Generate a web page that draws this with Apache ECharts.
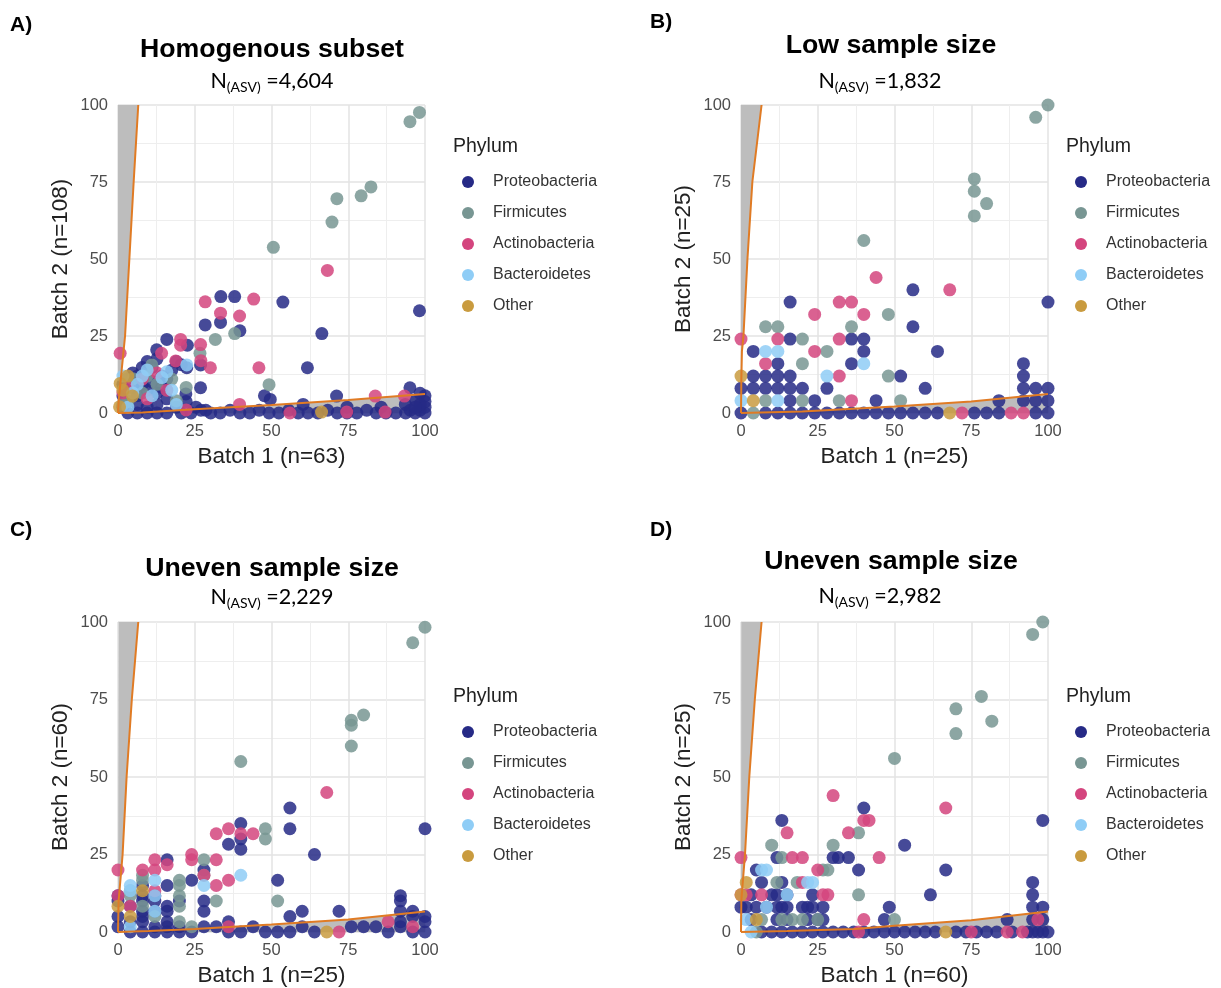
<!DOCTYPE html>
<html>
<head>
<meta charset="utf-8">
<script src="https://cdn.jsdelivr.net/npm/echarts@6/dist/echarts.min.js"></script>
<style>
  html, body { margin: 0; padding: 0; background: #fff; }
  #main { width: 1221px; height: 988px; }
</style>
</head>
<body>
<div id="main"></div>
<script>
const phyla = ["Proteobacteria", "Firmicutes", "Actinobacteria", "Bacteroidetes", "Other"];
const colors = ["#262a86", "#789693", "#d4457e", "#8fcdf6", "#c99b3f"];

// Panel A: Homogenous subset
const aProteo = [[33.5,37.8],[38,37.8],[53.7,36],[28.4,28.6],[33.4,29.4],[39.7,26.7],[66.4,25.8],[98.2,33.2],[61.7,14.7],[26.9,8.2],[15.9,23.9],[22.6,22],[12.6,20.5],[22.4,14.7],[26.9,15.6],[22.1,6.2],[47.7,5.6],[49.6,4.4],[71.2,5.5],[95.1,8.2],[98.4,6.4],[97,4],[93.6,2.8],[60.3,2.8],[85.7,1.9],[74.6,1.9],
  [1.6,9.3],[3.2,11.1],[4.8,13],[6.3,12],[7.9,14.8],[9.5,16.7],[11.1,14.8],[12.7,17.6],[14.3,12],[15.9,11.1],[17.5,13.9],[19,16.7],[20.6,15.7],[4.8,8.3],[6.3,5.6],[7.9,9.3],[9.5,7.4],[11.1,10.2],[12.7,6.5],[14.3,8.3],[3.2,3.7],[1.6,5.6],[6.3,2.8],[9.5,1.9],[12.7,2.8],[15.9,4.6],[19,1.9],[22.2,3.7],[25.4,1.9],[28.6,0.9],
  [20.6,0],[23.8,0],[27,0.9],[30.2,0],[33.3,0],[36.5,0.9],[39.7,0],[42.9,0],[46,0.9],[49.2,0],[52.4,0],[55.6,0.9],[58.7,0],[61.9,0],[65.1,0],[68.3,0.9],[71.4,0],[74.6,0],[77.8,0],[81,0.9],[84.1,0],[87.3,0],[90.5,0],[93.7,0],[95.2,0.9],[96.8,0],[98.4,0.9],[100,0],[100,1.9],[100,3.7],[100,5.6],[98.4,2.8],[96.8,1.9],[3.2,0],[6.3,0],[9.5,0],[12.7,0],[15.9,0],[1.6,1.9]];
const aFirm = [[95.1,94.6],[98.2,97.6],[71.3,69.6],[69.7,62],[79.2,70.5],[82.4,73.4],[50.6,53.8],[31.7,23.9],[38,25.8],[49.2,9.2],[26.7,19.4],[11,15.6],[17.5,11],[19,4],[7.9,6.5],[3.2,3.7],[12.7,9.3],[1.6,2.8],[4.8,11.1],[9.5,12],[22.2,8.3]];
const aActino = [[68.2,46.3],[28.4,36.1],[44.2,37],[33.4,32.4],[39.6,31.5],[45.9,14.7],[30.1,14.7],[26.9,22.2],[20.4,23.9],[20.4,22],[18.8,16.9],[14.2,19.4],[0.7,19.4],[39.6,2.8],[83.8,5.5],[93.3,5.5],[74.5,0.3],[87,0.3],[27,17],[12.7,13],[7.9,11],[3.2,8.3],[9.5,4.6],[1.6,6.5],[15.9,7.4],[22.2,1],[56,0]];
const aBact = [[7.9,12],[22.4,15.6],[15.9,13.4],[14.3,11.5],[6.3,9.3],[11.1,5.6],[3.2,1.9],[1.6,12],[19,2.8],[4.8,6.5],[17.5,7.4],[9.5,14]];
const aOther = [[4.7,5.5],[0.7,9.6],[66.3,0.3],[0.5,2],[1.6,7.4],[3.2,12]];
const aUpper = [[0,0],[0.3,5],[1,12],[2.3,25],[3.7,50],[5.1,75],[6.6,100]];
const aLower = [[0,0],[8,0.2],[25,1.2],[50,2.6],[75,4.2],[100,6.2]];

// Panel B: Low sample size
const bProteo = [[16,36],[56,40],[100,36],[56,28],[16,24],[36,24],[40,24],[40,20],[4,20],[64,20],[12,16],[36,16],[52,12],[92,16],[92,12],[92,8],[96,8],[100,8],[60,8],[28,8],[44,4],[24,4],[84,4],[92,4],[96,4],[100,4],
  [0,8],[4,8],[8,8],[12,8],[16,8],[20,8],[4,12],[8,12],[12,12],[16,12],[16,4],
  [0,0],[8,0],[12,0],[16,0],[20,0],[24,0],[28,0],[32,0],[36,0],[40,0],[44,0],[48,0],[52,0],[56,0],[60,0],[64,0],[76,0],[80,0],[84,0],[96,0],[100,0]];
const bFirm = [[100,100],[96,96],[76,76],[76,72],[76,64],[80,68],[40,56],[48,32],[36,28],[8,28],[12,28],[20,24],[28,20],[20,16],[48,12],[52,4],[32,4],[20,4],[8,4],[4,0]];
const bActino = [[44,44],[68,40],[32,36],[36,36],[24,32],[40,32],[0,24],[12,24],[32,24],[24,20],[8,16],[32,12],[36,4],[72,0],[88,0],[92,0]];
const bBact = [[8,20],[12,20],[40,16],[28,12],[12,4],[0,4]];
const bOther = [[0,12],[4,4],[68,0]];
const bUpper = [[0,0],[0.1,10],[0.3,20],[0.8,25],[2.1,50],[3.7,75],[6.7,100]];
const bLower = [[0,0],[20,0.5],[50,2.1],[75,3.7],[100,6.2]];

// Panel C: Uneven sample size (n=25 vs n=60)
const cProteo = [[56,40],[56,33.3],[40,35],[40,30],[40,26.7],[36,28.3],[64,25],[100,33.3],[16,23.3],[28,20],[24,16.7],[52,16.7],[16,15],[8,15],[28,10],[28,6.7],[60,6.7],[72,6.7],[56,5],[92,11.7],[92,10],[92,6.7],[96,6.7],[96,5],[100,5],[100,3.3],[92,3.3],[36,3.3],
  [0,11.7],[0,10],[4,8.3],[8,11.7],[8,10],[12,11.7],[12,10],[16,8.3],[16,6.7],[20,10],[0,5],[4,3.3],[8,5],[8,3.3],[12,1.7],[16,3.3],[20,1.7],[0,1.7],[12,6.7],[16,1.7],[8,6.7],
  [28,1.7],[32,1.7],[36,0],[40,0],[44,1.7],[48,0],[52,0],[56,0],[60,1.7],[64,0],[76,1.7],[80,1.7],[84,1.7],[88,0],[92,1.7],[96,0],[100,0],[24,0],[20,0],[16,0],[12,0],[8,0],[4,0]];
const cFirm = [[100,98.3],[96,93.3],[76,68.3],[76,66.7],[80,70],[76,60],[40,55],[48,33.3],[48,30],[28,23.3],[32,10],[52,10],[20,16.7],[20,15],[20,11.7],[20,8.3],[8,18.3],[8,16.7],[28,18.3],[4,13.3],[4,11.7],[12,5],[20,3.3],[24,1.7],[8,8.3]];
const cActino = [[68,45],[32,31.7],[36,33.3],[40,31.7],[44,31.7],[24,25],[24,23.3],[12,23.3],[16,21.7],[12,20],[8,20],[32,23.3],[28,18.3],[32,15],[36,16.7],[0,20],[88,3.3],[72,0],[96,1.7],[36,1.7],[4,8.3],[12,13.3],[0,11.7]];
const cBact = [[40,18.3],[28,15],[12,16.7],[4,15],[4,13.3],[12,6.7],[4,1.7],[12,11.7]];
const cOther = [[4,5],[68,0],[8,13.3],[0,8.3]];
const cUpper = [[0,0],[0.2,10],[1.5,25],[2.8,50],[4.5,75],[6.6,100]];
const cLower = [[0,0],[10,0.3],[25,1],[50,2.4],[75,4],[100,6.6]];

// Panel D: Uneven sample size (n=60 vs n=25)
const dProteo = [[40,40],[13.3,36],[98.3,36],[53.3,28],[66.7,20],[38.3,20],[30,24],[31.7,24],[35,24],[11.7,24],[61.7,12],[48.3,8],[95,16],[95,12],[95,8],[98.3,8],[86.7,4],[95,4],[98.3,4],[46.7,4],[25,4],[26.7,4],[23.3,12],[5,20],[6.7,16],[13.3,16],[3.3,12],[10,12],[11.7,12],[15,12],
  [0,8],[1.7,8],[5,8],[8.3,8],[11.7,8],[13.3,8],[15,8],[20,8],[21.7,8],[23.3,8],[26.7,8],[3.3,4],[11.7,4],[15,4],[21.7,4],
  [6.7,0],[10,0],[13.3,0],[16.7,0],[20,0],[23.3,0],[26.7,0],[30,0],[33.3,0],[36.7,0],[40,0],[43.3,0],[46.7,0],[50,0],[53.3,0],[56.7,0],[60,0],[63.3,0],[70,0],[73.3,0],[76.7,0],[80,0],[83.3,0],[88.3,0],[93.3,0],[96.7,0],[100,0],[98.3,0],[95,0]];
const dFirm = [[98.3,100],[95,96],[78.3,76],[70,72],[70,64],[81.7,68],[50,56],[38.3,32],[30,28],[10,28],[13.3,24],[18.3,16],[26.7,20],[38.3,12],[50,4],[25,4],[6.7,4],[5,0],[11.7,16],[16.7,4],[20,4],[28.3,20],[13.3,4]];
const dActino = [[30,44],[66.7,40],[40,36],[41.7,36],[35,32],[15,32],[0,24],[16.7,24],[20,24],[45,24],[25,20],[20,16],[28.3,12],[40,4],[0,12],[1.7,12],[6.7,12],[86.7,0],[91.7,0],[26.7,12],[96.7,4],[75,0],[38.3,0]];
const dBact = [[6.7,20],[8.3,20],[15,12],[23.3,16],[1.7,4],[3.3,0],[8.3,8],[21.7,16]];
const dOther = [[0,12],[5,4],[66.7,0],[1.7,16]];
const dUpper = [[0,0],[0.1,10],[1.3,25],[2.7,50],[4.5,75],[6.7,100]];
const dLower = [[0,0],[15,0.3],[37,1],[50,2],[75,3.8],[100,6.6]];

const ticks = [0, 25, 50, 75, 100];

const panels = [
  { label: "A)", title: "Homogenous subset", n: "4,604", xName: "Batch 1 (n=63)", yName: "Batch 2 (n=108)",
    grid: { left: 118, top: 105, width: 307, height: 308 }, labelPos: [10, 25], titlePos: [272, 50], subPos: [272, 81],
    legendX: 453, legendY: 147,
    points: [aProteo, aFirm, aActino, aBact, aOther], upper: aUpper, lower: aLower },
  { label: "B)", title: "Low sample size", n: "1,832", xName: "Batch 1 (n=25)", yName: "Batch 2 (n=25)",
    grid: { left: 741, top: 105, width: 307, height: 308 }, labelPos: [650, 22], titlePos: [891, 46], subPos: [880, 81],
    legendX: 1066, legendY: 147,
    points: [bProteo, bFirm, bActino, bBact, bOther], upper: bUpper, lower: bLower },
  { label: "C)", title: "Uneven sample size", n: "2,229", xName: "Batch 1 (n=25)", yName: "Batch 2 (n=60)",
    grid: { left: 118, top: 622, width: 307, height: 310 }, labelPos: [10, 530], titlePos: [272, 569], subPos: [272, 597],
    legendX: 453, legendY: 697,
    points: [cProteo, cFirm, cActino, cBact, cOther], upper: cUpper, lower: cLower },
  { label: "D)", title: "Uneven sample size", n: "2,982", xName: "Batch 1 (n=60)", yName: "Batch 2 (n=25)",
    grid: { left: 741, top: 622, width: 307, height: 310 }, labelPos: [650, 530], titlePos: [891, 562], subPos: [880, 596],
    legendX: 1066, legendY: 697,
    points: [dProteo, dFirm, dActino, dBact, dOther], upper: dUpper, lower: dLower }
];

const grids = [], xAxes = [], yAxes = [], series = [], legends = [], texts = [];

function axisBase() {
  return {
    type: "value", min: 0, max: 100, interval: 25,
    axisLine: { show: false }, axisTick: { show: false },
    axisLabel: { color: "#4d4d4d", fontSize: 16.5, fontFamily: "Liberation Sans", margin: 10,
      formatter: (v) => ticks.indexOf(v) >= 0 ? String(v) : "" },
    splitLine: { lineStyle: { color: "#e3e3e3", width: 1.5 } },
    minorTick: { show: false, splitNumber: 2 },
    minorSplitLine: { show: true, lineStyle: { color: "#eeeeee", width: 1 } },
    nameLocation: "middle",
    nameTextStyle: { color: "#222", fontSize: 22.5, fontFamily: "Liberation Sans" }
  };
}

panels.forEach((p, i) => {
  grids.push(Object.assign({ containLabel: false }, p.grid));
  xAxes.push(Object.assign(axisBase(), { gridIndex: i, name: p.xName, nameGap: 32 }));
  yAxes.push(Object.assign(axisBase(), { gridIndex: i, name: p.yName, nameGap: 46 }));

  // shaded bands and orange boundary curves
  series.push({ type: "line", xAxisIndex: i, yAxisIndex: i, data: p.upper, symbol: "none",
    lineStyle: { width: 0 }, areaStyle: { color: "#bdbdbd", opacity: 1, origin: "end" }, z: 1, silent: true });
  series.push({ type: "line", xAxisIndex: i, yAxisIndex: i, data: p.lower, symbol: "none",
    lineStyle: { width: 0 }, areaStyle: { color: "#bdbdbd", opacity: 1, origin: "start" }, z: 1, silent: true });

  phyla.forEach((name, k) => {
    series.push({ name: name, type: "scatter", xAxisIndex: i, yAxisIndex: i, data: p.points[k],
      symbolSize: 13, itemStyle: { color: colors[k], opacity: 0.85 }, z: 2 });
  });

  series.push({ type: "line", xAxisIndex: i, yAxisIndex: i, data: p.upper, symbol: "none",
    lineStyle: { color: "#e07b24", width: 2 }, z: 3, silent: true });
  series.push({ type: "line", xAxisIndex: i, yAxisIndex: i, data: p.lower, symbol: "none",
    lineStyle: { color: "#e07b24", width: 2 }, z: 3, silent: true });

  legends.push({
    data: phyla, orient: "vertical", left: p.legendX + 9, top: p.legendY + 27, padding: 0, icon: "circle",
    itemWidth: 12, itemHeight: 12, itemGap: 15, selectedMode: false,
    itemStyle: { opacity: 1 },
    textStyle: { color: "#333", fontSize: 16, fontFamily: "Liberation Sans", padding: [0, 0, 0, 14] }
  });

  texts.push({ type: "text", x: p.labelPos[0], y: p.labelPos[1],
    style: { text: p.label, font: "bold 21px 'Liberation Sans'", fill: "#000", textVerticalAlign: "middle" } });
  texts.push({ type: "text", x: p.titlePos[0], y: p.titlePos[1],
    style: { text: p.title, font: "bold 26.7px 'Liberation Sans'", fill: "#000", textAlign: "center", textVerticalAlign: "middle" } });
  texts.push({ type: "text", x: p.subPos[0], y: p.subPos[1],
    style: { text: "{n|N}{s|(ASV)}{n| =" + p.n + "}", textAlign: "center", textVerticalAlign: "middle",
      rich: {
        n: { fontSize: 21.5, fontFamily: "Lato", fill: "#000", lineHeight: 26 },
        s: { fontSize: 14, fontFamily: "Lato", fill: "#000", lineHeight: 14, verticalAlign: "bottom" }
      } } });
  texts.push({ type: "text", x: p.legendX, y: p.legendY,
    style: { text: "Phylum", font: "19.5px 'Liberation Sans'", fill: "#222", textVerticalAlign: "middle" } });
});

const options = {
  backgroundColor: "#fff",
  animation: false,
  grid: grids,
  xAxis: xAxes,
  yAxis: yAxes,
  legend: legends,
  series: series,
  graphic: texts
};

var myChart = echarts.init(document.querySelector("#main"));
myChart.setOption(options);
</script>
</body>
</html>
